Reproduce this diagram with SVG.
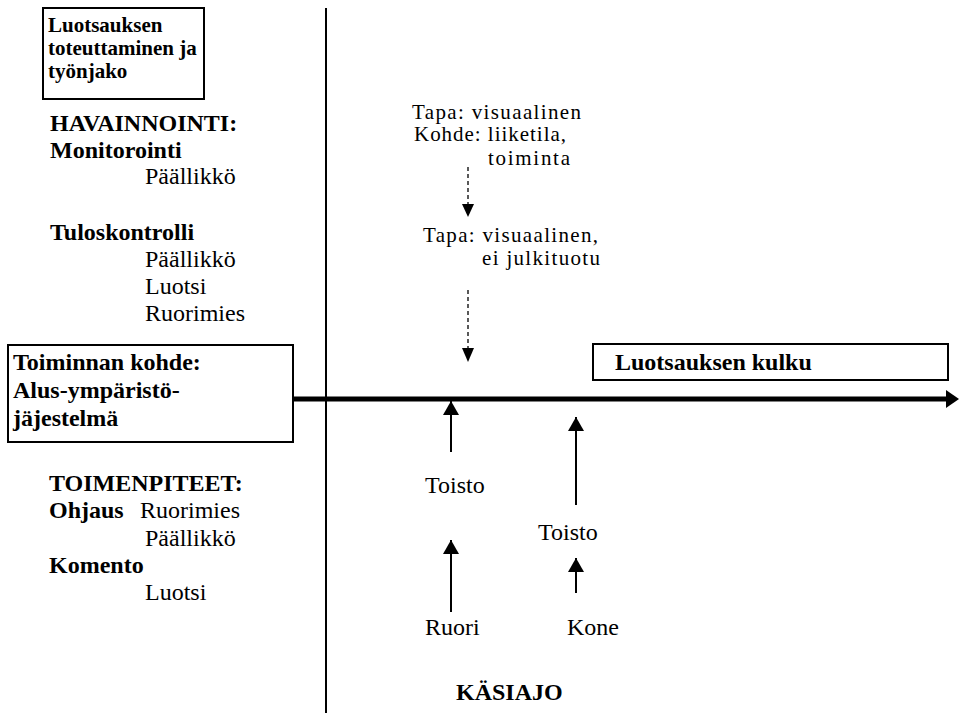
<svg xmlns="http://www.w3.org/2000/svg" width="959" height="713" viewBox="0 0 959 713" font-family="'Liberation Serif', Tinos, 'Times New Roman', 'DejaVu Serif', serif">
<style>
text{font-family:'Liberation Serif',Tinos,'Times New Roman','DejaVu Serif',serif;font-size:24px;fill:#000}
.b{font-weight:bold}
.sm{font-size:21px}
.md{font-size:21px}
.box{fill:#fff;stroke:#000;stroke-width:2}
.ln{stroke:#000;stroke-width:2;fill:none}
.dash{stroke:#000;stroke-width:1.3;stroke-dasharray:4,3;fill:none}
.head{fill:#000}
</style>
<defs>
<marker id="ah" viewBox="0 0 14 16" refX="14" refY="8" markerWidth="14" markerHeight="16" markerUnits="userSpaceOnUse" orient="auto"><path d="M0,0 L14,8 L0,16 Z" class="head"/></marker>
</defs>
<rect width="959" height="713" fill="#fff"/>
<g id="connectors">
<line x1="326" y1="8" x2="326" y2="713" class="ln"/>
<line x1="293" y1="399" x2="947" y2="399" stroke="#000" stroke-width="5"/>
<path d="M946,390 L959,399 L946,408 Z" class="head"/>
<line x1="468" y1="167" x2="468" y2="204" class="dash"/>
<path d="M462,204 L474,204 L468,217 Z" class="head"/>
<line x1="468" y1="290" x2="468" y2="348" class="dash"/>
<path d="M462,348 L474,348 L468,362 Z" class="head"/>
<line x1="451" y1="452" x2="451" y2="401" class="ln" marker-end="url(#ah)"/>
<line x1="451" y1="612" x2="451" y2="540" class="ln" marker-end="url(#ah)"/>
<line x1="576" y1="505" x2="576" y2="417" class="ln" marker-end="url(#ah)"/>
<line x1="576" y1="593" x2="576" y2="558" class="ln" marker-end="url(#ah)"/>
</g>
<g id="box-toteuttaminen">
<rect x="43" y="8" width="161" height="91" class="box"/>
<text class="b sm" x="48" y="32">Luotsauksen</text>
<text class="b sm" x="48" y="55">toteuttaminen ja</text>
<text class="b sm" x="48" y="78">työnjako</text>
</g>
<g id="havainnointi">
<text class="b" x="50" y="131">HAVAINNOINTI:</text>
<text class="b" x="50" y="158">Monitorointi</text>
<text x="145" y="184">Päällikkö</text>
<text class="b" x="50" y="240">Tuloskontrolli</text>
<text x="145" y="267">Päällikkö</text>
<text x="145" y="294">Luotsi</text>
<text x="145" y="321">Ruorimies</text>
</g>
<g id="box-kohde">
<rect x="8" y="345" width="285" height="97" class="box"/>
<text class="b" x="13" y="370">Toiminnan kohde:</text>
<text class="b" x="13" y="398">Alus-ympäristö-</text>
<text class="b" x="13" y="426">jäjestelmä</text>
</g>
<g id="toimenpiteet">
<text class="b" x="49" y="491">TOIMENPITEET:</text>
<text class="b" x="49" y="518">Ohjaus</text>
<text x="140" y="518">Ruorimies</text>
<text x="145" y="546">Päällikkö</text>
<text class="b" x="49" y="573">Komento</text>
<text x="145" y="600">Luotsi</text>
</g>
<g id="box-kulku">
<rect x="593" y="344" width="355" height="36" class="box"/>
<text class="b" x="615" y="370">Luotsauksen kulku</text>
</g>
<g id="tapa1">
<text class="md" x="412" y="119" textLength="169">Tapa: visuaalinen</text>
<text class="md" x="414" y="141" textLength="152">Kohde: liiketila,</text>
<text class="md" x="488" y="165" textLength="82">toiminta</text>
</g>
<g id="tapa2">
<text class="md" x="423" y="242" textLength="175">Tapa: visuaalinen,</text>
<text class="md" x="482" y="265" textLength="118">ei julkituotu</text>
</g>
<g id="toisto1"><text x="425" y="493">Toisto</text></g>
<g id="toisto2"><text x="538" y="540">Toisto</text></g>
<g id="ruori"><text x="425" y="635">Ruori</text></g>
<g id="kone"><text x="567" y="635">Kone</text></g>
<g id="kasiajo"><text class="b" x="456" y="700">KÄSIAJO</text></g>
</svg>
